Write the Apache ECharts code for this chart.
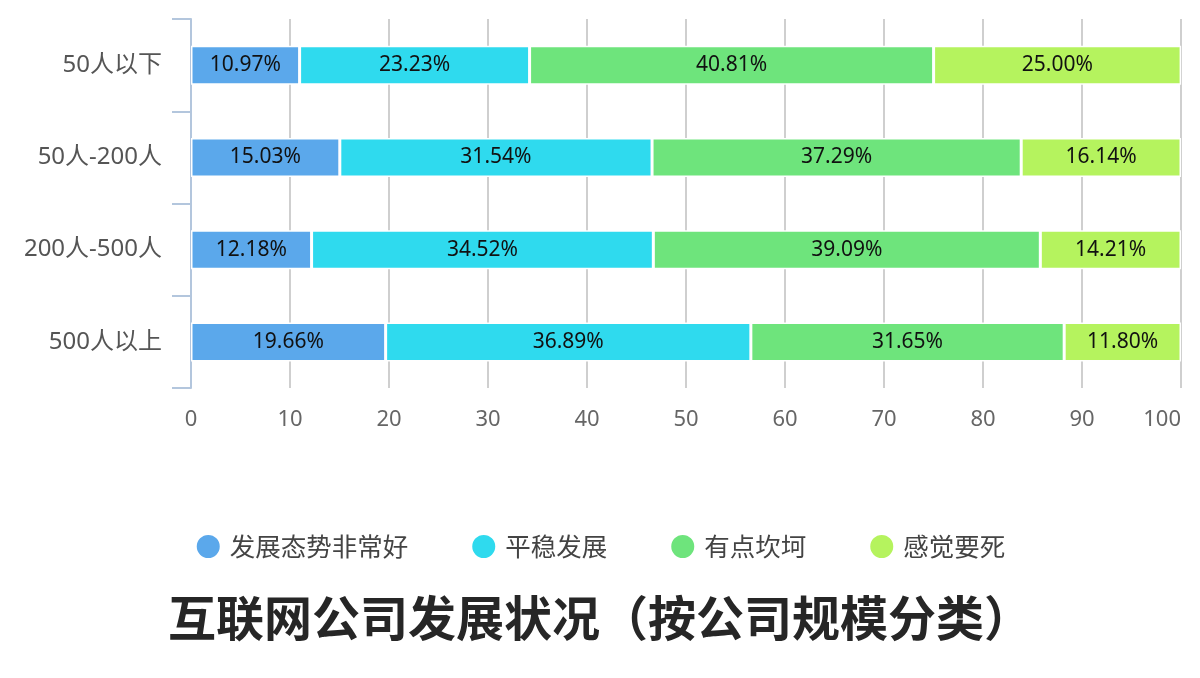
<!DOCTYPE html>
<html>
<head>
<meta charset="utf-8">
<script src="https://cdn.jsdelivr.net/npm/echarts@6/dist/echarts.min.js"></script>
<style>
html,body{margin:0;padding:0;background:#fff;}
#main{width:1200px;height:678px;}
</style>
</head>
<body>
<div id="main"></div>
<script>
const categories = ['50人以下', '50人-200人', '200人-500人', '500人以上'];
const seriesNames = ['发展态势非常好', '平稳发展', '有点坎坷', '感觉要死'];
const veryGood = [10.97, 15.03, 12.18, 19.66];
const stable = [23.23, 31.54, 34.52, 36.89];
const bumpy = [40.81, 37.29, 39.09, 31.65];
const dying = [25.00, 16.14, 14.21, 11.80];
const xTicks = [0, 10, 20, 30, 40, 50, 60, 70, 80, 90, 100];
const colors = ['#5ba8eb', '#2fdaee', '#6ee47c', '#b5f35e'];
const titleText = '互联网公司发展状况（按公司规模分类）';

const font = '"Noto Sans", "Noto Sans CJK SC", sans-serif';
const cjkFont = '"Noto Sans CJK SC", sans-serif';
const values = [veryGood, stable, bumpy, dying];

const chart = echarts.init(document.getElementById('main'));
chart.setOption({
  backgroundColor: '#fff',
  textStyle: { fontFamily: font },
  title: {
    text: titleText,
    left: 'center',
    top: 589,
    textStyle: { fontSize: 48, fontWeight: 'bold', color: '#262626', fontFamily: cjkFont }
  },
  legend: {
    data: seriesNames,
    left: 'center',
    top: 528,
    icon: 'circle',
    itemWidth: 25,
    itemHeight: 25,
    itemGap: 62,
    textStyle: { fontSize: 25.5, color: '#444', fontFamily: cjkFont, padding: [0, 0, 0, 4] }
  },
  grid: { left: 191, right: 19, top: 19, bottom: 290, containLabel: false },
  xAxis: {
    type: 'value',
    min: xTicks[0],
    max: xTicks[xTicks.length - 1],
    interval: 10,
    axisLine: { show: false },
    axisTick: { show: false },
    splitLine: { show: true, lineStyle: { color: '#cfcfcf', width: 2 } },
    axisLabel: { fontSize: 22, color: '#666', margin: 21, alignMaxLabel: 'right', fontFamily: font }
  },
  yAxis: {
    type: 'category',
    data: categories,
    inverse: true,
    axisLine: { show: true, lineStyle: { color: '#b3c6dd', width: 2 } },
    axisTick: { show: true, length: 19, lineStyle: { color: '#b3c6dd', width: 2 } },
    axisLabel: { fontSize: 24, color: '#555', margin: 29, fontFamily: font }
  },
  series: seriesNames.map((name, i) => ({
    name: name,
    type: 'bar',
    stack: 'total',
    barWidth: 39,
    data: values[i],
    itemStyle: { color: colors[i], borderColor: '#fff', borderWidth: 1.5 },
    label: {
      show: true,
      position: 'inside',
      formatter: p => p.value.toFixed(2) + '%',
      fontSize: 21,
      color: '#111',
      fontFamily: font
    }
  }))
});
</script>
</body>
</html>
